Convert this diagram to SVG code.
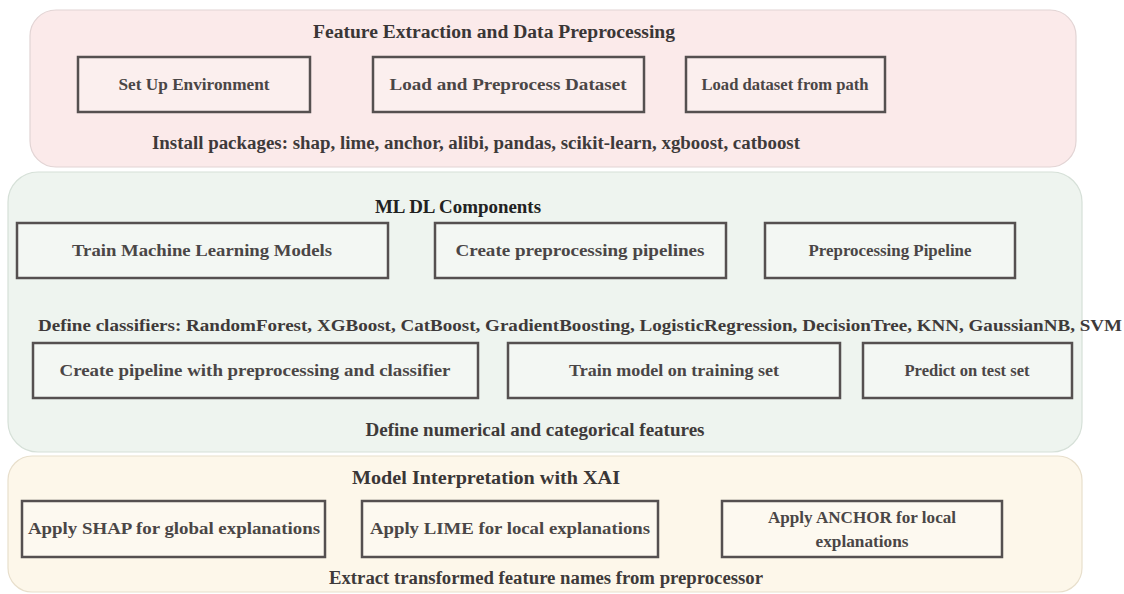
<svg xmlns="http://www.w3.org/2000/svg" width="1124" height="594" viewBox="0 0 1124 594">
<style>
text{font-family:"Liberation Serif","Times New Roman",serif;font-weight:bold;font-size:17px;text-anchor:middle;}
.t{fill:#3a3636;font-size:18px;}
.lbl{fill:#4a4646;}
.note{fill:#3e3a3a;font-size:18px;}
.box{stroke:#555050;stroke-width:2.5;}
.pink .box{fill:#fbefee;}
.green .box{fill:#f3f7f3;}
.cream .box{fill:#fdf9f0;}
</style>
<rect width="1124" height="594" fill="#ffffff"/>
<g id="panel-feature" class="pink">
<rect x="30" y="10" width="1046" height="157" rx="26" fill="#fbeaea" stroke="#e2d4d4" stroke-width="1.2"/>
<text class="t" x="494" y="38" textLength="362" lengthAdjust="spacingAndGlyphs">Feature Extraction and Data Preprocessing</text>
<text class="note" x="476" y="149" textLength="648" lengthAdjust="spacingAndGlyphs">Install packages: shap, lime, anchor, alibi, pandas, scikit-learn, xgboost, catboost</text>
</g>
<g id="node-setup" class="pink"><rect class="box" x="78" y="57" width="232" height="55"/><text class="lbl" x="194" y="90" textLength="151" lengthAdjust="spacingAndGlyphs">Set Up Environment</text></g>
<g id="node-load" class="pink"><rect class="box" x="373" y="57" width="271" height="55"/><text class="lbl" x="508" y="90" textLength="237" lengthAdjust="spacingAndGlyphs">Load and Preprocess Dataset</text></g>
<g id="node-path" class="pink"><rect class="box" x="686" y="57" width="199" height="55"/><text class="lbl" x="785" y="90" textLength="167" lengthAdjust="spacingAndGlyphs">Load dataset from path</text></g>

<g id="panel-ml" class="green">
<rect x="8" y="172" width="1074" height="280" rx="30" fill="#eef4ef" stroke="#d6e0d8" stroke-width="1.2"/>
<text class="t" x="458" y="213" textLength="166" lengthAdjust="spacingAndGlyphs" style="fill:#222">ML DL Components</text>
<text class="note" x="580" y="331" textLength="1084" lengthAdjust="spacingAndGlyphs" style="font-size:17px">Define classifiers: RandomForest, XGBoost, CatBoost, GradientBoosting, LogisticRegression, DecisionTree, KNN, GaussianNB, SVM</text>
<text class="note" x="535" y="436" textLength="339" lengthAdjust="spacingAndGlyphs">Define numerical and categorical features</text>
</g>
<g id="node-train-ml" class="green"><rect class="box" x="17" y="223" width="371" height="55"/><text class="lbl" x="202" y="256" textLength="260" lengthAdjust="spacingAndGlyphs">Train Machine Learning Models</text></g>
<g id="node-create-pp" class="green"><rect class="box" x="435" y="223" width="291" height="55"/><text class="lbl" x="580" y="256" textLength="249" lengthAdjust="spacingAndGlyphs">Create preprocessing pipelines</text></g>
<g id="node-pp" class="green"><rect class="box" x="765" y="223" width="250" height="55"/><text class="lbl" x="890" y="256" textLength="163" lengthAdjust="spacingAndGlyphs">Preprocessing Pipeline</text></g>
<g id="node-create-pipe" class="green"><rect class="box" x="33" y="343" width="445" height="55"/><text class="lbl" x="255" y="376" textLength="391" lengthAdjust="spacingAndGlyphs">Create pipeline with preprocessing and classifier</text></g>
<g id="node-train-set" class="green"><rect class="box" x="508" y="343" width="332" height="55"/><text class="lbl" x="674" y="376" textLength="210" lengthAdjust="spacingAndGlyphs">Train model on training set</text></g>
<g id="node-predict" class="green"><rect class="box" x="863" y="343" width="209" height="55"/><text class="lbl" x="967" y="376" textLength="125" lengthAdjust="spacingAndGlyphs">Predict on test set</text></g>

<g id="panel-xai" class="cream">
<rect x="8" y="456" width="1074" height="136" rx="24" fill="#fdf7ea" stroke="#e8dfcc" stroke-width="1.2"/>
<text class="t" x="486" y="484" textLength="268" lengthAdjust="spacingAndGlyphs">Model Interpretation with XAI</text>
<text class="note" x="546" y="584" textLength="434" lengthAdjust="spacingAndGlyphs">Extract transformed feature names from preprocessor</text>
</g>
<g id="node-shap" class="cream"><rect class="box" x="22" y="501" width="303" height="56"/><text class="lbl" x="174" y="534" textLength="292" lengthAdjust="spacingAndGlyphs">Apply SHAP for global explanations</text></g>
<g id="node-lime" class="cream"><rect class="box" x="362" y="501" width="296" height="56"/><text class="lbl" x="510" y="534" textLength="280" lengthAdjust="spacingAndGlyphs">Apply LIME for local explanations</text></g>
<g id="node-anchor" class="cream"><rect class="box" x="722" y="501" width="280" height="56"/><text class="lbl" x="862" y="523" textLength="188" lengthAdjust="spacingAndGlyphs">Apply ANCHOR for local</text><text class="lbl" x="862" y="547" textLength="93" lengthAdjust="spacingAndGlyphs">explanations</text></g>
<g id="connectors"></g>
</svg>
